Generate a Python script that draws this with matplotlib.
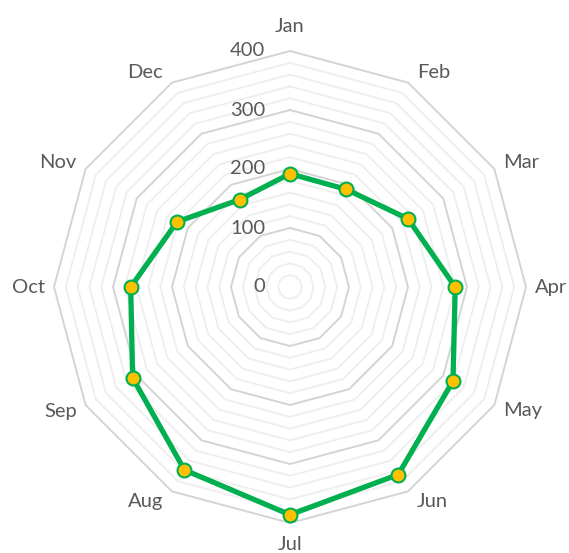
import numpy as np
import matplotlib
matplotlib.use("Agg")
import matplotlib.pyplot as plt

categories = ["Jan", "Feb", "Mar", "Apr", "May", "Jun", "Jul", "Aug", "Sep", "Oct", "Nov", "Dec"]
values = [192, 191, 231, 280, 319, 367, 386, 358, 308, 270, 221, 171]
major_ticks = [0, 100, 200, 300, 400]
minor_ticks = [v for v in range(20, 400, 20) if v % 100 != 0]
rmax = 400

plt.rcParams['font.family'] = ['Lato', 'DejaVu Sans']
W, H = 569, 553
fig = plt.figure(figsize=(W / 100, H / 100), dpi=100)
cx, cy, R = 290, 287, 236
ax = fig.add_axes([(cx - R) / W, (H - cy - R) / H, 2 * R / W, 2 * R / H], projection='polar')
ax.set_theta_zero_location('N')
ax.set_theta_direction(-1)
ax.set_ylim(0, rmax)
ax.grid(False)
ax.spines['polar'].set_visible(False)
ax.set_xticks([])
ax.set_yticks([])
ax.patch.set_visible(False)

n = len(categories)
theta = np.arange(n) * 2 * np.pi / n
theta_c = np.append(theta, theta[0])

for r in minor_ticks:
    ax.plot(theta_c, [r] * (n + 1), color='#EEEEEE', lw=1.3, zorder=1, clip_on=False)
for r in major_ticks[1:]:
    ax.plot(theta_c, [r] * (n + 1), color='#D4D4D4', lw=1.4, zorder=2, clip_on=False)

vals_c = values + [values[0]]
ax.plot(theta_c, vals_c, color='#00B050', lw=3.8, zorder=5, clip_on=False, solid_joinstyle='miter')
ax.plot(theta, values, 'o', ms=10, mfc='#FFC000', mec='#00B050', mew=1.5, zorder=6, clip_on=False)

txt_color = '#595959'
fs = 14.5
for r in major_ticks:
    ax.annotate(str(r), xy=(0, r), xytext=(-18, 0), textcoords='offset points',
                ha='right', va='center', fontsize=fs, color=txt_color, annotation_clip=False)

px = 0.72
for t, lab in zip(theta, categories):
    s, c = np.sin(t), np.cos(t)
    if abs(s) < 0.01:
        ox, oy = 0, (25 if c > 0 else -22)
        ha = 'center'
    else:
        ox = 9 * np.sign(s)
        oy = 12 * c
        if abs(c) < 0.01:
            oy = 0
        ha = 'left' if s > 0 else 'right'
    ax.annotate(lab, xy=(t, rmax), xytext=(ox * px, oy * px), textcoords='offset points',
                ha=ha, va='center', fontsize=fs, color=txt_color, annotation_clip=False)

fig.savefig('out.png', dpi=100)
